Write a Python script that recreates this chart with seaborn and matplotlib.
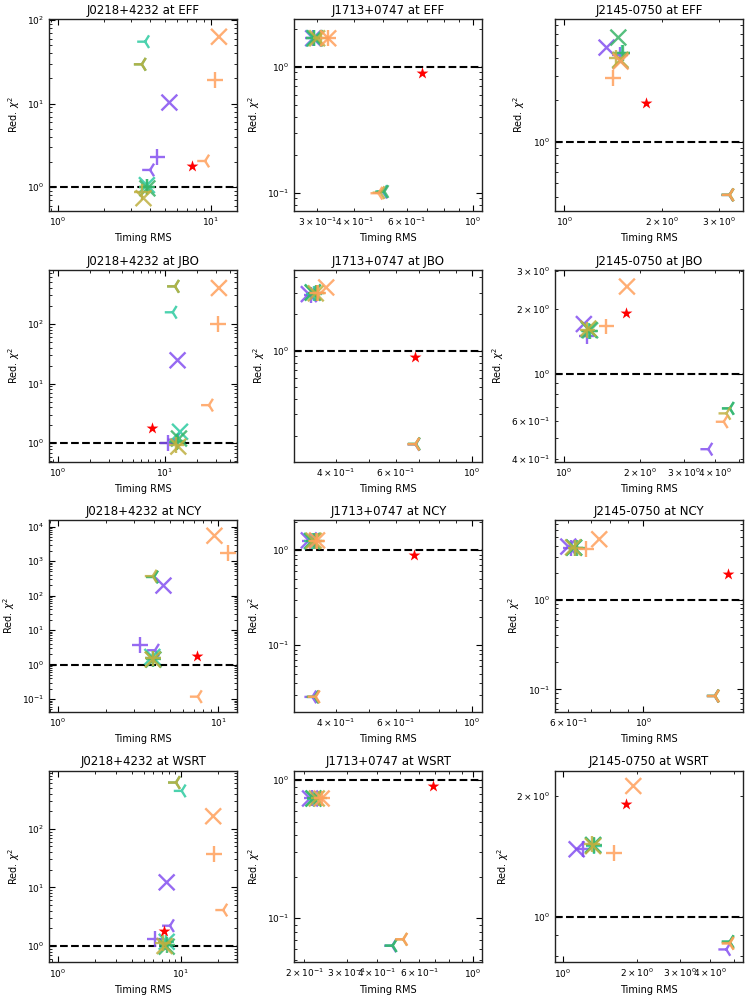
import matplotlib
matplotlib.use("Agg")
import matplotlib.pyplot as plt  # noqa: E402
import numpy as np  # noqa: E402
import pandas as pd  # noqa: E402
import seaborn as sns  # noqa: E402

PULSARS = ["J0218+4232", "J1713+0747", "J2145-0750"]
SITES = ["EFF", "JBO", "NCY", "WSRT"]

# five noise-model variants, each drawn with three marker kinds, plus the reference star
GROUPS = ["v1", "v2", "v3", "v4", "v5"]
KINDS = ["x", "+", "tri"]
PALETTE = {"v1": "#8450f0", "v2": "#2ccaa0", "v3": "#38b468", "v4": "#bfb040", "v5": "#ffa05c"}
MARKERS = {"x": "x", "+": "+", "tri": "3"}

# order: v1(x,+,tri), v2(x,+,tri), v3(x,+,tri), v4(x,+,tri), v5(x,+,tri), star
RMS_J0218_EFF = [5.36, 4.48, 4.01, 3.82, 3.80, 3.72, 3.85, 3.85, 3.54, 3.63, 3.54, 3.54, 11.3, 10.6, 9.18, 7.5]
CHI2_J0218_EFF = [10.3, 2.28, 1.61, 1.06, 1.02, 55, 0.97, 1.0, 29.5, 0.74, 0.885, 29.5, 63, 19.2, 2.06, 1.81]
RMS_J1713_EFF = [0.291, 0.291, 0.50, 0.293, 0.293, 0.50, 0.295, 0.293, 0.505, 0.30, 0.31, 0.49, 0.327, 0.327, 0.482, 0.674]
CHI2_J1713_EFF = [1.68, 1.68, 0.101, 1.68, 1.70, 0.102, 1.68, 1.68, 0.102, 1.68, 1.68, 0.100, 1.68, 1.68, 0.0989, 0.896]
RMS_J2145_EFF = [1.351, 1.486, 3.24, 1.49, 1.51, 3.24, 1.469, 1.514, 3.24, 1.49, 1.45, 3.25, 1.493, 1.417, 3.24, 1.788]
CHI2_J2145_EFF = [4.78, 4.23, 0.412, 3.85, 4.35, 0.412, 5.65, 4.35, 0.412, 3.9, 4.0, 0.413, 3.79, 2.90, 0.412, 1.914]

RMS_J0218_JBO = [13.1, 10.7, 12.5, 13.8, 13.2, 11.8, 13.5, 13.0, 12.4, 13.3, 12.8, 12.4, 31.8, 31.4, 25.7, 7.5]
CHI2_J0218_JBO = [24.5, 1.02, 1.15, 1.56, 1.1, 156, 1.2, 1.05, 424, 0.88, 0.95, 424, 398, 100, 4.35, 1.78]
RMS_J1713_JBO = [0.334, 0.34, 0.684, 0.343, 0.345, 0.685, 0.343, 0.35, 0.686, 0.35, 0.353, 0.684, 0.3754, 0.355, 0.684, 0.684]
CHI2_J1713_JBO = [2.92, 2.85, 0.170, 3.02, 2.95, 0.171, 3.0, 2.98, 0.172, 2.96, 2.96, 0.171, 3.31, 2.96, 0.171, 0.893]
RMS_J2145_JBO = [1.20, 1.23, 3.76, 1.256, 1.26, 4.58, 1.27, 1.27, 4.58, 1.25, 1.24, 4.44, 1.782, 1.476, 4.33, 1.772]
CHI2_J2145_JBO = [1.70, 1.49, 0.445, 1.60, 1.58, 0.689, 1.59, 1.57, 0.689, 1.62, 1.60, 0.653, 2.54, 1.656, 0.597, 1.91]

RMS_J0218_NCY = [4.55, 3.25, 4.03, 3.88, 3.9, 3.97, 3.94, 3.94, 3.97, 3.9, 3.92, 3.90, 9.44, 11.4, 7.44, 7.4]
CHI2_J0218_NCY = [194, 3.61, 2.59, 1.66, 1.5, 345, 1.39, 1.45, 345, 1.4, 1.5, 365, 5400, 1660, 0.117, 1.78]
RMS_J1713_NCY = [0.334, 0.336, 0.342, 0.341, 0.342, 0.348, 0.342, 0.345, 0.347, 0.345, 0.35, 0.349, 0.353, 0.352, 0.350, 0.677]
CHI2_J1713_NCY = [1.27, 1.25, 0.0286, 1.25, 1.24, 0.0286, 1.25, 1.24, 0.0286, 1.26, 1.26, 0.0287, 1.27, 1.25, 0.0287, 0.893]
RMS_J2145_NCY = [0.60, 0.61, 1.63, 0.624, 0.63, 1.63, 0.624, 0.635, 1.63, 0.62, 0.63, 1.635, 0.741, 0.677, 1.63, 1.789]
CHI2_J2145_NCY = [3.90, 3.80, 0.0843, 3.80, 3.75, 0.0843, 3.80, 3.74, 0.0845, 3.82, 3.76, 0.0843, 4.71, 3.64, 0.0842, 1.917]

RMS_J0218_WSRT = [7.7, 6.19, 8.19, 7.7, 7.6, 10.2, 7.7, 7.7, 9.16, 7.4, 7.2, 9.16, 18.4, 18.8, 22.2, 7.32]
CHI2_J0218_WSRT = [12.2, 1.32, 2.22, 1.18, 1.15, 444, 0.975, 1.05, 617, 1.0, 1.14, 617, 164, 37, 4.11, 1.80]
RMS_J1713_WSRT = [0.211, 0.214, 0.463, 0.218, 0.22, 0.465, 0.218, 0.222, 0.465, 0.225, 0.23, 0.514, 0.2358, 0.2358, 0.515, 0.682]
CHI2_J1713_WSRT = [0.737, 0.74, 0.0632, 0.737, 0.735, 0.0634, 0.737, 0.737, 0.0634, 0.737, 0.737, 0.0704, 0.737, 0.737, 0.0705, 0.905]
RMS_J2145_WSRT = [1.14, 1.213, 4.64, 1.33, 1.34, 4.79, 1.332, 1.34, 4.79, 1.33, 1.32, 4.79, 1.94, 1.622, 4.79, 1.81]
CHI2_J2145_WSRT = [1.473, 1.473, 0.829, 1.51, 1.50, 0.867, 1.508, 1.51, 0.867, 1.50, 1.52, 0.86, 2.118, 1.445, 0.858, 1.914]

RMS = [[RMS_J0218_EFF, RMS_J1713_EFF, RMS_J2145_EFF],
       [RMS_J0218_JBO, RMS_J1713_JBO, RMS_J2145_JBO],
       [RMS_J0218_NCY, RMS_J1713_NCY, RMS_J2145_NCY],
       [RMS_J0218_WSRT, RMS_J1713_WSRT, RMS_J2145_WSRT]]
CHI2 = [[CHI2_J0218_EFF, CHI2_J1713_EFF, CHI2_J2145_EFF],
        [CHI2_J0218_JBO, CHI2_J1713_JBO, CHI2_J2145_JBO],
        [CHI2_J0218_NCY, CHI2_J1713_NCY, CHI2_J2145_NCY],
        [CHI2_J0218_WSRT, CHI2_J1713_WSRT, CHI2_J2145_WSRT]]

# axis ranges of each panel (row = site, column = pulsar)
XLIMS = [[(0.88, 14.9), (0.2515, 1.077), (0.936, 3.57)],
         [(0.836, 47.2), (0.303, 1.072), (0.921, 5.17)],
         [(0.887, 13.1), (0.303, 1.072), (0.548, 1.977)],
         [(0.855, 28.9), (0.1815, 1.097), (0.931, 5.43)]]
YLIMS = [[(0.525, 102), (0.0719, 2.38), (0.317, 7.66)],
         [(0.495, 794), (0.123, 4.6), (0.39, 3.03)],
         [(0.043, 15200), (0.020, 2.07), (0.0564, 7.67)],
         [(0.527, 975), (0.048, 1.168), (0.77, 2.31)]]

LEFTS = [0.066, 0.394, 0.743]
BOTTOMS = [0.7887, 0.5371, 0.2862, 0.0348]
W, H = 0.2517, 0.192

fig = plt.figure(figsize=(7.47, 9.97), dpi=100)

for r, site in enumerate(SITES):
    for c, psr in enumerate(PULSARS):
        ax = fig.add_axes([LEFTS[c], BOTTOMS[r], W, H])
        rms, chi2 = RMS[r][c], CHI2[r][c]
        df = pd.DataFrame({
            "rms": rms[:15],
            "chi2": chi2[:15],
            "group": np.repeat(GROUPS, 3),
            "kind": KINDS * 5,
        })
        ax.axhline(1.0, color="black", ls="--", lw=1.5, zorder=1)
        sns.scatterplot(data=df, x="rms", y="chi2", hue="group", style="kind",
                        palette=PALETTE, markers=MARKERS, s=130, linewidth=1.7,
                        alpha=0.85, legend=False, ax=ax, zorder=2)
        sns.scatterplot(x=[rms[15]], y=[chi2[15]], marker="*", color="red",
                        s=80, linewidth=0, ax=ax, zorder=3)
        ax.set_xscale("log"); ax.set_yscale("log")
        ax.set_xlim(*XLIMS[r][c]); ax.set_ylim(*YLIMS[r][c])
        ax.tick_params(which="both", direction="in", top=True, right=True, labelsize=6.5)
        ax.tick_params(which="major", length=4)
        ax.tick_params(which="minor", length=2)
        for sp in ax.spines.values():
            sp.set_linewidth(1.0); sp.set_color("#222222")
        ax.set_title(f"{psr} at {site}", fontsize=8.5, pad=4)
        ax.set_xlabel("Timing RMS", fontsize=7)
        ax.set_ylabel(r"Red. $\chi^2$", fontsize=7)

fig.savefig("out.png", dpi=100)
